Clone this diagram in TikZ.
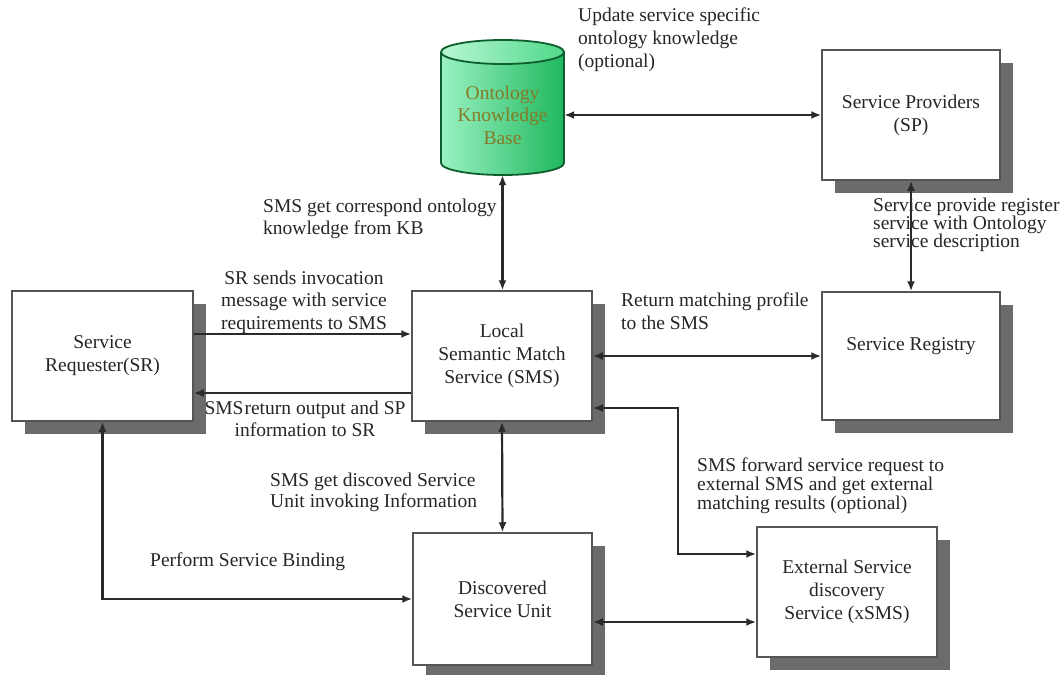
\documentclass[tikz,border=0pt]{standalone}
\usepackage{fontspec}
\setmainfont{Liberation Serif}
\usetikzlibrary{arrows.meta,shadows}
\definecolor{txt}{HTML}{262626}
\definecolor{boxline}{HTML}{555555}
\definecolor{shadowgray}{HTML}{6B6B6B}
\definecolor{linecol}{HTML}{2A2A2A}
\definecolor{cylL}{HTML}{9AF2C2}
\definecolor{cylR}{HTML}{1FB85E}
\definecolor{topL}{HTML}{B8F7D4}
\definecolor{topR}{HTML}{4FD889}
\definecolor{cylborder}{HTML}{0E5E2E}
\definecolor{kbtxt}{HTML}{857A26}
\newcommand{\dfont}{\fontsize{19.5}{23}\selectfont}
\begin{document}
\begin{tikzpicture}[x=1pt,y=-1pt,
  box/.style={draw=boxline, fill=white, line width=1.5pt, align=center, inner sep=2pt,
    text=txt, font=\dfont,
    drop shadow={shadow xshift=13pt, shadow yshift=-13pt, fill=shadowgray, opacity=1}},
  lbl/.style={align=left, text=txt, inner sep=0pt, anchor=west},
  clbl/.style={align=center, text=txt, inner sep=0pt},
  dbl/.style={{Latex[length=10pt,width=8pt]}-{Latex[length=10pt,width=8pt]}, line width=2.2pt, draw=linecol},
  one/.style={-{Latex[length=10pt,width=8pt]}, line width=2.2pt, draw=linecol}
]
\fill[white] (0,0) rectangle (1064,674);
\useasboundingbox (0,0) rectangle (1064,674);

% Ontology knowledge base cylinder
\shade[left color=cylL, right color=cylR] (441,52) -- (441,163)
  arc[start angle=180, end angle=360, x radius=61.5pt, y radius=12pt] -- (564,52) -- cycle;
\shade[left color=topL, right color=topR] (502.5,52) ellipse [x radius=61.5pt, y radius=12pt];
\draw[cylborder, line width=1.8pt] (441,52) -- (441,163)
  arc[start angle=180, end angle=360, x radius=61.5pt, y radius=12pt] -- (564,52);
\draw[cylborder, line width=1.8pt] (502.5,52) ellipse [x radius=61.5pt, y radius=12pt];
\node[minimum width=123pt, minimum height=135pt, inner sep=0pt] (kb) at (502.5,107.5) {};
\node[clbl, text=kbtxt, font=\fontsize{19.5}{22.5}\selectfont] (kbtext) at (502.5,115) {Ontology\\Knowledge\\Base};

% boxes
\node[box, minimum width=181pt, minimum height=130pt] (sr) at (102.5,356) {Service\\Requester(SR)};
\node[box, minimum width=180pt, minimum height=130pt] (sms) at (502,356) {Local\\Semantic Match\\Service (SMS)};
\node[box, minimum width=178pt, minimum height=130pt] (sp) at (911,115) {Service Providers\\(SP)};
\node[box, minimum width=178pt, minimum height=128pt, text depth=24pt] (reg) at (911,356) {Service Registry};
\node[box, minimum width=179pt, minimum height=132pt] (dsu) at (502.5,599) {Discovered\\Service Unit};
\node[box, minimum width=180pt, minimum height=130pt] (ext) at (847,592) {External Service\\discovery\\Service (xSMS)};

% labels
\node[lbl, font=\fontsize{19.5}{23}\selectfont] (lupd) at (578,40) {Update service specific\\ontology knowledge\\(optional)};
\node[lbl, font=\fontsize{19.5}{22}\selectfont] (lkb) at (263,219) {SMS get correspond ontology\\knowledge from KB};
\node[clbl, font=\fontsize{19.5}{22.5}\selectfont] (lsrs) at (304,302) {SR sends invocation\\message with service\\requirements to SMS};
\node[clbl, font=\fontsize{19.5}{22}\selectfont] (lsmsr) at (305,419) {SMS\kern1pt return output and SP\\information to SR};
\node[lbl, font=\fontsize{19.5}{23}\selectfont] (lret) at (621,311) {Return matching profile\\to the SMS};
\node[lbl, font=\fontsize{19.5}{18}\selectfont] (lspr) at (873,225) {Service provide register\\service with Ontology\\service description};
\node[lbl, font=\fontsize{19.5}{21}\selectfont] (ldisc) at (270,492.5) {SMS get discoved Service\\Unit invoking Information};
\node[lbl, font=\dfont] (lpsb) at (150,562) {Perform Service Binding};
\node[lbl, font=\fontsize{19.5}{19}\selectfont] (lfwd) at (697,486) {SMS forward service request to\\external SMS and get external\\matching results (optional)};

% connectors
\draw[dbl] (sp.west -| kb.east) -- (sp.west);
\draw[dbl] (kb.south) -- (kb.south |- sms.north);
\draw[dbl] (sp.south) -- (reg.north);
\draw[dbl] (sms.east) -- (reg.west);
\draw[one] ([yshift=22pt]sr.east) -- ([yshift=22pt]sr.east -| sms.west);
\draw[one] ([yshift=-37pt]sms.west) -- ([yshift=-37pt]sms.west -| sr.east);
\draw[dbl] ([yshift=-52pt]sms.east) -- ++(85,0) |- ([yshift=38pt]ext.west);
\draw[dbl] ([yshift=-23pt]dsu.east) -- ([yshift=-23pt]dsu.east -| ext.west);
\draw[dbl] (sr.south) |- (dsu.west);
\draw[dbl] (sms.south) -- (dsu.north);
\end{tikzpicture}
\end{document}
